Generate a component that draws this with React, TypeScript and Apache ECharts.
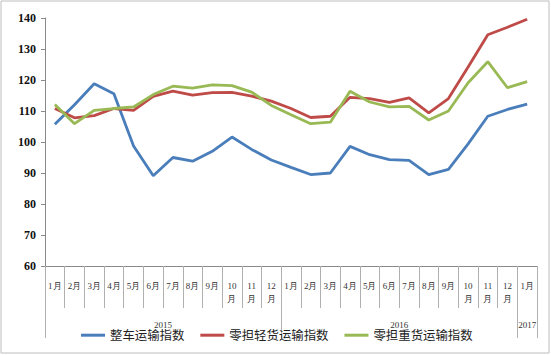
import React, { useEffect, useRef } from "react";
import * as echarts from "echarts";

const months = [
  "1月", "2月", "3月", "4月", "5月", "6月", "7月", "8月", "9月", "10\n月", "11\n月", "12\n月",
  "1月", "2月", "3月", "4月", "5月", "6月", "7月", "8月", "9月", "10\n月", "11\n月", "12\n月",
  "1月",
];
const years = ["2015", "2016", "2017"];
const yearCenters = [6, 18, 24.5];
const yearBounds = [0, 12, 24, 25];

const seriesNames = ["整车运输指数", "零担轻货运输指数", "零担重货运输指数"];
const wholeTruck = [105.7, 112, 118.8, 115.6, 98.7, 89.1, 95, 93.8, 97, 101.6, 97.6, 94.2,
  91.8, 89.5, 90, 98.6, 95.9, 94.3, 94.1, 89.5, 91.2, 99.4, 108.3, 110.5, 112.2];
const lightLTL = [110.8, 107.8, 108.5, 110.8, 110.2, 114.7, 116.4, 115.1, 115.9, 116, 114.8, 113.2,
  110.8, 107.9, 108.3, 114.4, 114, 112.8, 114.2, 109.4, 114, 124.2, 134.6, 137, 139.6];
const heavyLTL = [112.1, 105.9, 110.2, 110.8, 111.3, 115.3, 118, 117.4, 118.4, 118.2, 116.1, 111.8,
  108.8, 105.9, 106.4, 116.4, 112.9, 111.3, 111.5, 107.1, 110, 119.1, 125.9, 117.5, 119.5];
const colors = ["#4A7EBB", "#BE4B48", "#98B954"];

export default function App() {
  const ref = useRef<HTMLDivElement>(null);
  useEffect(() => {
    document.body.style.margin = "0";
    const chart = echarts.init(ref.current!, null, { renderer: "svg" });
    const data = [wholeTruck, lightLTL, heavyLTL];
    chart.setOption({
      animation: false,
      backgroundColor: "#fff",
      graphic: [
        {
          type: "rect",
          shape: { x: 1, y: 1, width: 548, height: 352 },
          style: { fill: "none", stroke: "#bdbdbd", lineWidth: 1 },
          silent: true,
        },
      ],
      grid: { left: 45, right: 14, top: 18, bottom: 89 },
      legend: {
        left: 76,
        top: 324,
        itemWidth: 24,
        itemHeight: 3,
        itemGap: 16,
        icon: "rect",
        textStyle: { fontSize: 12.4, color: "#222", fontFamily: "Noto Sans CJK SC" },
        data: seriesNames,
      },
      xAxis: [
        {
          type: "category",
          data: months,
          boundaryGap: true,
          axisLine: { show: true, lineStyle: { color: "#8a8a8a", width: 1 } },
          axisTick: { show: true, interval: 0, length: 42, lineStyle: { color: "#b0b0b0" } },
          axisLabel: {
            interval: 0,
            margin: 13,
            fontSize: 9,
            lineHeight: 13,
            color: "#333",
            fontFamily: "Liberation Serif",
          },
        },
        {
          type: "value",
          min: 0,
          max: 25,
          position: "bottom",
          axisLine: { show: false },
          splitLine: { show: false },
          axisTick: {
            show: true,
            customValues: yearBounds,
            length: 72,
            lineStyle: { color: "#b0b0b0" },
          },
          axisLabel: {
            customValues: yearCenters,
            margin: 54,
            fontSize: 9,
            color: "#333",
            fontFamily: "Liberation Serif",
            formatter: (v: number) => years[yearCenters.indexOf(v)] ?? "",
          },
        },
      ],
      yAxis: {
        type: "value",
        min: 60,
        max: 140,
        interval: 10,
        axisLine: { show: true, lineStyle: { color: "#8a8a8a" } },
        axisTick: { show: true, length: 4, lineStyle: { color: "#8a8a8a" } },
        splitLine: { show: false },
        axisLabel: {
          margin: 9,
          fontSize: 12,
          fontWeight: "bold",
          color: "#111",
          fontFamily: "Liberation Serif",
        },
      },
      series: seriesNames.map((name, i) => ({
        name,
        type: "line",
        data: data[i],
        xAxisIndex: 0,
        symbol: "none",
        lineStyle: { width: 2.8, color: colors[i] },
        itemStyle: { color: colors[i] },
      })),
    });
    return () => chart.dispose();
  }, []);
  return <div ref={ref} style={{ width: 551, height: 355 }} />;
}
